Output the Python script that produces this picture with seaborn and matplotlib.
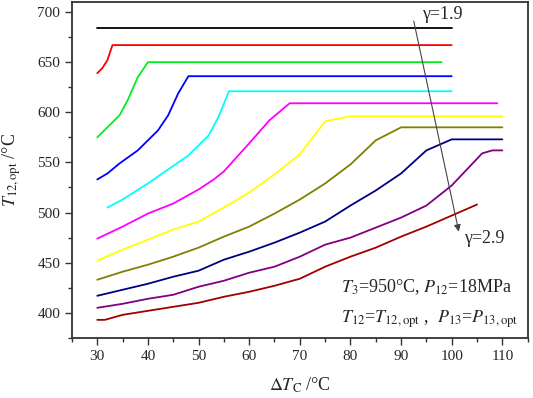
import matplotlib
matplotlib.use('Agg')
import matplotlib.pyplot as plt
import seaborn as sns
import pandas as pd

sns.set_style('white')
plt.rcParams['font.family'] = ['Liberation Serif', 'DejaVu Serif']
plt.rcParams['mathtext.fontset'] = 'stix'

# gamma = 1.9 ... 2.9, optimum T12 vs delta Tc
x_19 = [30, 100]
y_19 = [684, 684]
x_20 = [30, 31, 32, 33, 100]
y_20 = [639, 644, 652, 667, 667]
x_21 = [30, 32, 34.4, 36, 38, 40, 98]
y_21 = [575, 585, 597, 612, 635, 650, 650]
x_22 = [30, 32, 34.4, 38, 42, 44, 46, 48, 100]
y_22 = [533, 539, 549, 562, 582, 597, 619, 636, 636]
x_23 = [32, 35, 40, 44, 48, 52, 54, 56, 100]
y_23 = [505, 513, 529, 543, 557, 577, 596, 621, 621]
x_24 = [30, 35, 40, 45, 50, 53, 55, 60, 64, 68, 109]
y_24 = [474, 486, 499, 509, 523, 533, 541, 569, 592, 609, 609]
x_25 = [30, 35, 40, 45, 50, 55, 60, 65, 70, 75, 80, 110]
y_25 = [452, 463, 473, 483, 491, 505, 520, 538, 558, 591, 596, 596]
x_26 = [30, 35, 40, 45, 50, 55, 60, 65, 70, 75, 80, 85, 90, 110]
y_26 = [433, 441, 448, 456, 465, 476, 486, 499, 513, 529, 548, 572, 585, 585]
x_27 = [30, 35, 40, 45, 50, 55, 60, 65, 70, 75, 80, 85, 90, 95, 100, 110]
y_27 = [417, 423, 429, 436, 442, 453, 461, 470, 480, 491, 507, 522, 539, 562, 573, 573]
x_28 = [30, 35, 40, 45, 50, 55, 60, 65, 70, 75, 80, 85, 90, 95, 100, 103, 106, 108, 110]
y_28 = [405, 409, 414, 418, 426, 432, 440, 446, 456, 468, 475, 485, 495, 507, 527, 543, 559, 562, 562]
x_29 = [30, 31.5, 35, 40, 45, 50, 55, 60, 65, 70, 75, 80, 85, 90, 95, 100, 105]
y_29 = [393, 393, 398, 402, 406, 410, 416, 421, 427, 434, 446, 456, 465, 476, 486, 497, 508]

gammas = ['1.9', '2.0', '2.1', '2.2', '2.3', '2.4', '2.5', '2.6', '2.7', '2.8', '2.9']
xs = [x_19, x_20, x_21, x_22, x_23, x_24, x_25, x_26, x_27, x_28, x_29]
ys = [y_19, y_20, y_21, y_22, y_23, y_24, y_25, y_26, y_27, y_28, y_29]
colors = ['#000000', '#FF0000', '#00EE22', '#0000FF', '#00FFFF', '#FF00FF',
          '#FFFF00', '#808000', '#000080', '#800080', '#A00000']

rows = []
for g, xx, yy in zip(gammas, xs, ys):
    for a, b in zip(xx, yy):
        rows.append({'gamma': g, 'dTc': a, 'T12': b})
df = pd.DataFrame(rows)

fig = plt.figure(figsize=(5.33, 3.98), dpi=100)
ax = fig.add_axes([0.135, 0.151, 0.855, 0.844])

sns.lineplot(data=df, x='dTc', y='T12', hue='gamma', palette=colors,
             sort=False, estimator=None, linewidth=1.3, legend=False, ax=ax)

ax.set_xlim(25, 115)
ax.set_ylim(375, 710)
ax.set_xticks(range(30, 111, 10))
ax.set_xticks(range(25, 116, 5), minor=True)
ax.set_yticks(range(400, 701, 50))
ax.set_yticks(range(375, 710, 25), minor=True)
ax.tick_params(which='major', direction='out', length=5, width=1, labelsize=11,
               bottom=True, left=True, color='#333333')
ax.tick_params(which='minor', direction='out', length=3, width=1,
               bottom=True, left=True, color='#333333')
for s in ax.spines.values():
    s.set_color('#333333')
    s.set_linewidth(1.3)

ax.set_xlabel(r'$\Delta T_\mathrm{C}$ /°C', fontsize=13, labelpad=9)
ax.set_ylabel(r'$T_\mathrm{12,opt}$ /°C', fontsize=13, labelpad=10)

ax.annotate('', xy=(101.4, 481), xytext=(92.5, 691),
            arrowprops=dict(arrowstyle='-|>', color='#444444', lw=0.8,
                            mutation_scale=10, shrinkA=0, shrinkB=0))
ax.text(94.2, 698, 'γ=1.9', fontsize=13, va='center', ha='left')
ax.text(102.4, 474, 'γ=2.9', fontsize=13, va='center', ha='left')
ax.text(78.2, 426, r'$T_3$=950°C, $P_{12}$=18MPa', fontsize=13, va='center', ha='left')
ax.text(78.2, 394, r'$T_{12}$=$T_\mathrm{12,opt}$ ,  $P_{13}$=$P_\mathrm{13,opt}$',
        fontsize=13, va='center', ha='left')

fig.savefig('out.png', dpi=100)
